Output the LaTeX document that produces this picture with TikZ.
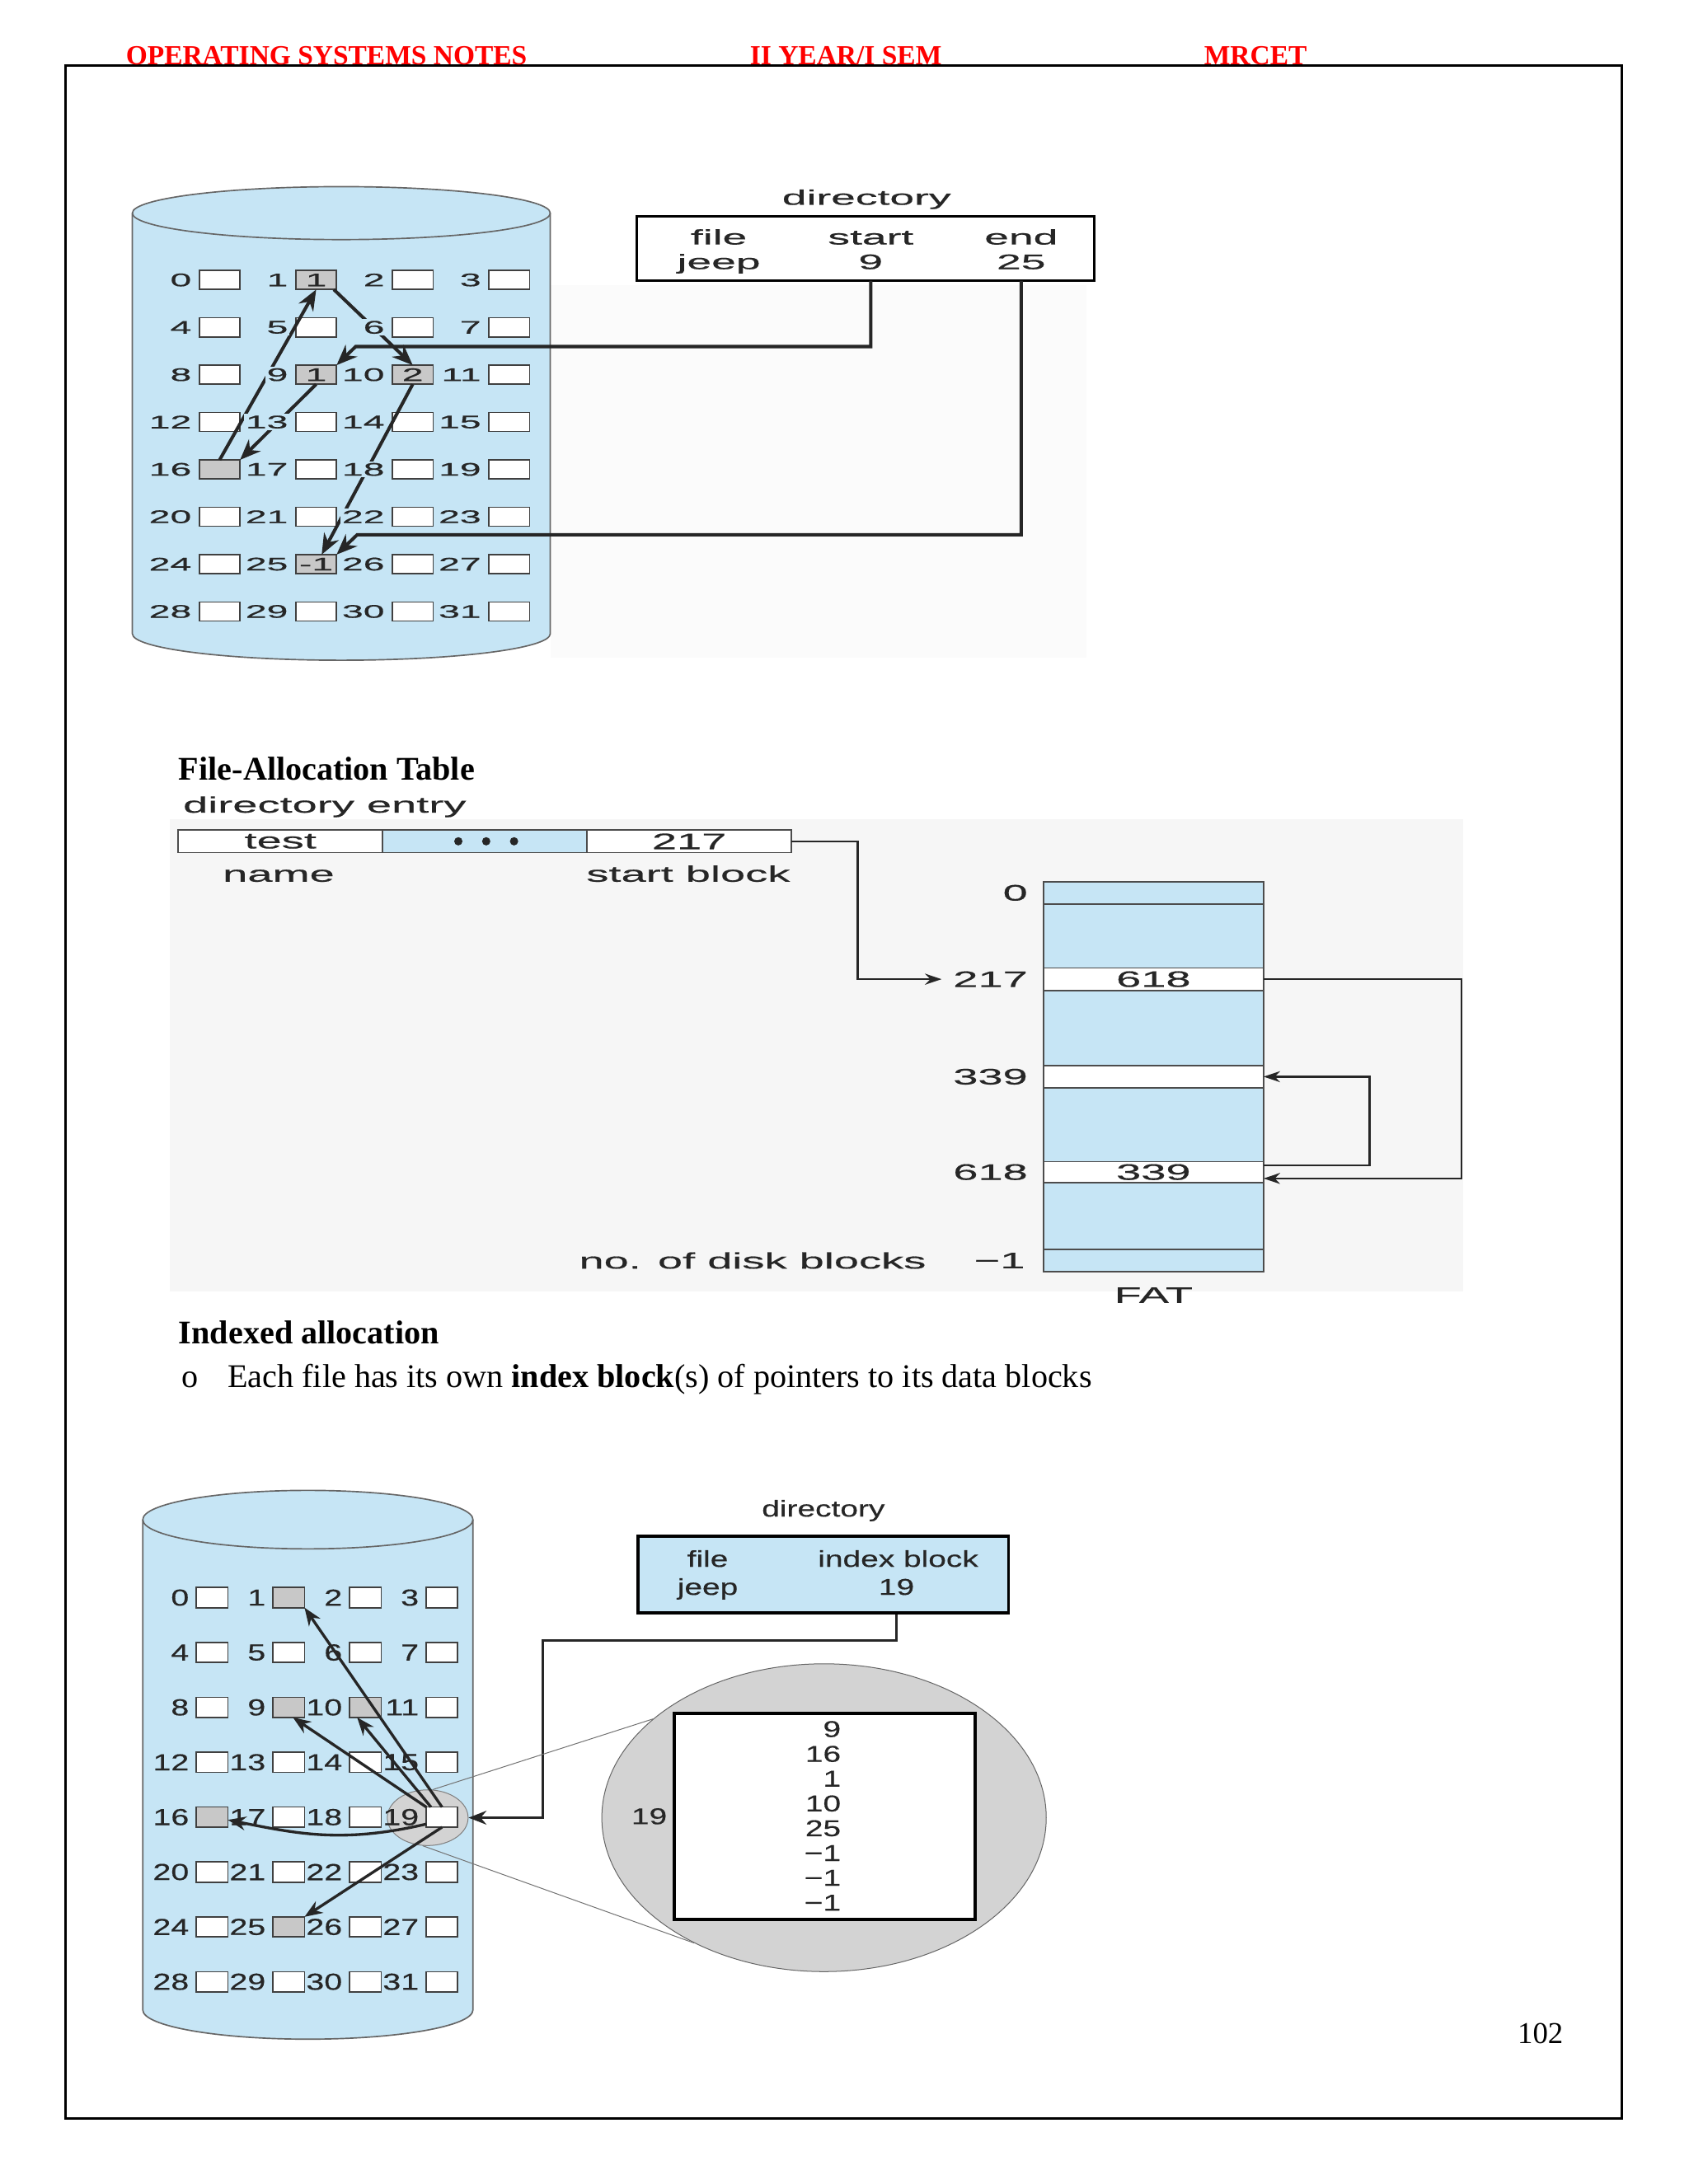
\documentclass[tikz,border=0pt]{standalone}
\usepackage{fontspec}
\setmainfont{Liberation Serif}
\newfontfamily\lkfont[FakeStretch=2.1, FakeBold=0.6]{Liberation Sans}
\newfontfamily\fatfont[FakeStretch=2.0, FakeBold=0.5]{Liberation Sans}
\newfontfamily\ixfont[FakeStretch=1.4, FakeBold=0.4]{Liberation Sans}
\usetikzlibrary{arrows.meta,positioning,shapes.geometric}
\definecolor{diskblue}{HTML}{C6E5F5}
\definecolor{usedgray}{HTML}{C8C8C8}
\definecolor{lensgray}{HTML}{D3D3D3}
\definecolor{inkgray}{HTML}{262626}

\begin{document}
\begin{tikzpicture}[x=0.505pt, y=-0.505pt,
  cyl/.style={draw=black!60, fill=diskblue, line width=0.5pt},
  blk/.style={draw=black!75, fill=white, line width=0.5pt, inner sep=0pt, outer sep=0pt, text=inkgray},
  lkblk/.style={blk, minimum width=14.8pt, minimum height=6.9pt, font=\lkfont\fontsize{6.6}{7}\selectfont},
  lklbl/.style={fill=diskblue, inner sep=0.6pt, font=\lkfont\fontsize{6.6}{7}\selectfont, text=inkgray},
  lktxt/.style={inner sep=0pt, font=\lkfont\fontsize{7.6}{9}\selectfont, text=inkgray},
  lkarrow/.style={line width=1.2pt, draw=black!85, -{Stealth[length=7.5pt, width=6pt]}},
  ixblk/.style={blk, minimum width=11.4pt, minimum height=7.3pt},
  ixlbl/.style={inner sep=0pt, font=\ixfont\fontsize{8.4}{10}\selectfont, text=inkgray},
  ixtxt/.style={inner sep=0pt, font=\ixfont\fontsize{8.3}{10}\selectfont, text=inkgray},
  ixarrow/.style={line width=1pt, draw=black!85, -{Stealth[length=6.5pt, width=5pt]}},
  lens/.style={ellipse, draw=black!50, fill=lensgray, line width=0.3pt, inner sep=0pt},
  zoomline/.style={draw=black!55, line width=0.3pt},
  fattxt/.style={inner sep=0pt, font=\fatfont\fontsize{8.1}{10}\selectfont, text=inkgray},
  fatrow/.style={fattxt, draw=black!70, line width=0.5pt, minimum width=79.8pt, outer sep=0pt},
  fatarrow/.style={line width=0.7pt, draw=black!85, -{Stealth[length=6pt, width=4pt]}},
  hdr/.style={inner sep=0pt, text=red, font=\bfseries\fontsize{10}{12}\selectfont},
  head/.style={inner sep=0pt, font=\bfseries\fontsize{12}{14}\selectfont},
  body/.style={inner sep=0pt, font=\fontsize{12}{14}\selectfont}
]
\useasboundingbox (0,0) rectangle (1212,1568);
\fill[white] (0,0) rectangle (1212,1568);

% page frame and running header
\draw[line width=0.8pt] (47,47) rectangle (1164,1521);
\node[hdr, anchor=base west] at (90,46.5) {OPERATING SYSTEMS NOTES};
\node[hdr, anchor=base west] at (538,46.5) {II YEAR/I SEM};
\node[hdr, anchor=base west] at (864,46.5) {MRCET};

% ---- linked allocation ----
\fill[black!1.5] (395,205) rectangle (780,472);
\filldraw[cyl] (95,153) -- (95,455) arc[start angle=180, end angle=0, x radius=150, y radius=19]
  -- (395,153) arc[start angle=0, end angle=-180, x radius=150, y radius=19] -- cycle;
\draw[cyl, fill=none] (95,153) arc[start angle=180, end angle=0, x radius=150, y radius=19];

\foreach \r in {0,...,7}
  \foreach \c in {0,...,3} {
    \pgfmathtruncatemacro{\n}{4*\r+\c}
    \node[lkblk] (lk\n) at (157.65+69.3*\c, 201+34*\r) {};
  }
\foreach \n/\v in {1/1, 9/1, 10/2, 16/{}, 25/-1}
  \node[lkblk, fill=usedgray] at (lk\n) {\v};

\node[draw, line width=0.9pt, minimum width=165.9pt, minimum height=23.5pt, inner sep=0pt, outer sep=0pt] (lkdir) at (621.25,178.3) {};
\node[lktxt, anchor=base] at (622,147) {directory};
\node[lktxt, anchor=base] at (516,175.5) {file};
\node[lktxt, anchor=base] at (625,175.5) {start};
\node[lktxt, anchor=base] at (733,175.5) {end};
\node[lktxt, anchor=base] at (516,193.2) {jeep};
\node[lktxt, anchor=base] (lkd9) at (625,193.2) {9};
\node[lktxt, anchor=base] (lkd25) at (733,193.2) {25};

\coordinate (lkjA) at (255.3,248.8);
\coordinate (lkjB) at (256.4,383.9);
\draw[lkarrow] (lkdir.south -| lkd9) |- (lkjA) -- (lk9.north east);
\draw[lkarrow] (lkdir.south -| lkd25) |- (lkjB) -- (lk25.north east);
\draw[lkarrow] (lk9.south) -- (lk16.north east);
\draw[lkarrow] (lk16.north) -- (lk1.south);
\draw[lkarrow] ([xshift=-1pt]lk1.south east) -- (lk10.north);
\draw[lkarrow] (lk10.south) -- ([xshift=2pt]lk25.north);

\foreach \n in {0,...,31}
  \node[lklbl, left=2pt of lk\n] {\n};

% ---- file-allocation table ----
\node[head, anchor=base west] at (128,560) {File-Allocation Table};
\fill[black!3.5] (122,588) rectangle (1050,927);
\node[fattxt, anchor=base west] at (131,583.4) {directory entry};
\node[fatrow, minimum width=74.1pt, minimum height=8.1pt, fill=white] (entname) at (201.3,604) {test};
\node[fatrow, minimum width=74.1pt, minimum height=8.1pt, fill=diskblue, right=0pt of entname] (entdots) {};
\node[fatrow, minimum width=74.1pt, minimum height=8.1pt, fill=white, right=0pt of entdots] (entstart) {217};
\foreach \x in {329,349,369}
  \fill[inkgray] (\x,604) circle[radius=1.5pt];
\node[fattxt, anchor=base] at (200,633) {name};
\node[fattxt, anchor=base] at (494,633) {start block};

\node[fatrow, minimum height=141.4pt, fill=diskblue] (fatcol) at (828,773) {};
\node[fatrow, minimum height=8.1pt, fill=diskblue] (fr0) at (828,641) {};
\node[fatrow, minimum height=8.1pt, fill=white] (fr217) at (828,703) {618};
\node[fatrow, minimum height=8.1pt, fill=white] (fr339) at (828,773) {};
\node[fatrow, minimum height=7.6pt, fill=white] (fr618) at (828,841.5) {339};
\node[fatrow, minimum height=8.1pt, fill=diskblue] (frend) at (828,905) {};

\node[fattxt, left=5.5pt of fr0] {0};
\node[fattxt, left=5.5pt of fr217] (l217) {217};
\node[fattxt, left=5.5pt of fr339] {339};
\node[fattxt, left=5.5pt of fr618] {618};
\node[fattxt, left=6.5pt of frend] (lend) {−1};
\node[fattxt, left=17pt of lend] {no. of disk blocks};
\node[fattxt, below=5.5pt of frend] {FAT};

\coordinate (fjA) at (615.6,604);
\coordinate (fjB) at (1049,703);
\coordinate (fjC) at (983,773);
\draw[fatarrow] (entstart.east) -- (fjA) |- ([xshift=-4pt]l217.west);
\draw[fatarrow] (fr217.east) -- (fjB) |- ([yshift=-2.3pt]fr618.east);
\draw[fatarrow] ([yshift=2.4pt]fr618.east) -| (fjC) -- (fr339.east);

% ---- indexed allocation ----
\node[head, anchor=base west] at (128,965) {Indexed allocation};
\node[body, anchor=base west] at (130,996) {o};
\node[body, anchor=base west] at (163,996) {Each file has its own \textbf{index block}(s) of pointers to its data blocks};

\filldraw[cyl] (102.5,1091) -- (102.5,1443) arc[start angle=180, end angle=0, x radius=118.5, y radius=21]
  -- (339.5,1091) arc[start angle=0, end angle=-180, x radius=118.5, y radius=21] -- cycle;
\draw[cyl, fill=none] (102.5,1091) arc[start angle=180, end angle=0, x radius=118.5, y radius=21];
\node[lens, minimum width=29.3pt, minimum height=20.2pt] (lens) at (307,1305) {};

\foreach \r in {0,...,7}
  \foreach \c in {0,...,3} {
    \pgfmathtruncatemacro{\n}{4*\r+\c}
    \node[ixblk] (ix\n) at (152.3+55*\c, 1147+39.4*\r) {};
  }
\foreach \n in {1,9,10,16,25}
  \node[ixblk, fill=usedgray] at (ix\n) {};
\foreach \n in {0,...,31}
  \node[ixlbl, left=2.5pt of ix\n] {\n};

\draw[ixarrow] (ix19.north) -- (ix1.south east);
\draw[ixarrow] ([xshift=-4pt]ix19.north) -- ([xshift=-3pt]ix10.south);
\draw[ixarrow] (ix19.north west) -- ([xshift=1.5pt]ix9.south);
\draw[ixarrow] ([yshift=-2.5pt]ix19.west) .. controls +(-60,14) and +(50,10) .. ([yshift=-1pt]ix16.east);
\draw[ixarrow] (ix19.south) -- (ix25.north east);

\node[draw, line width=1pt, fill=diskblue, minimum width=134.3pt, minimum height=27.8pt, inner sep=0pt] (ixdir) at (591,1130.5) {};
\node[ixtxt, anchor=base] at (591,1088.8) {directory};
\node[ixtxt, anchor=base] at (508,1124.9) {file};
\node[ixtxt, anchor=base] at (644.7,1124.9) {index block};
\node[ixtxt, anchor=base] at (508,1145) {jeep};
\node[ixtxt, anchor=base] (ixd19) at (643.5,1145) {19};

\coordinate (ixjA) at (389.5,1177.8);
\draw[ixarrow] (ixdir.south -| ixd19) |- (ixjA) |- (lens.east);

\node[lens, draw=black!60, minimum width=161.1pt, minimum height=111.6pt] (mag) at (591.5,1305) {};
\node[draw, line width=1.2pt, fill=white, minimum width=109.1pt, minimum height=74.7pt, inner sep=0pt] (ixblock) at (592,1304) {};
\node[ixtxt] at (466,1304) {19};
\foreach \v [count=\i from 0] in {9,16,1,10,25,−1,−1,−1}
  \node[ixtxt, anchor=east] at (604,1241.4+17.8*\i) {\v};
\draw[zoomline] (lens.80) -- (mag.150);
\draw[zoomline] (lens.260) -- (mag.224);

\node[body, anchor=base west, font=\fontsize{11}{13}\selectfont] at (1089,1467) {102};
\end{tikzpicture}
\end{document}
